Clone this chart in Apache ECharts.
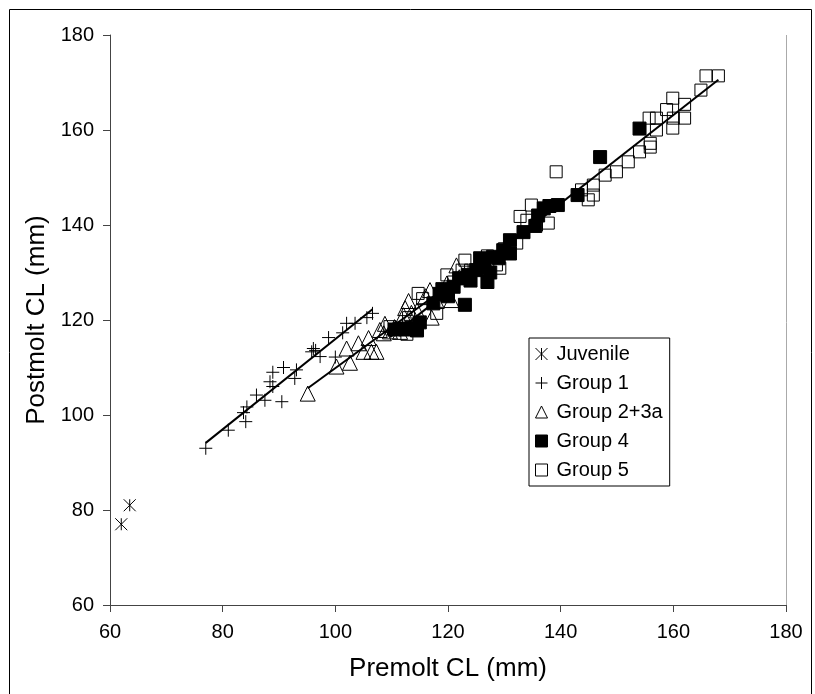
<!DOCTYPE html>
<html><head><meta charset="utf-8">
<script src="https://cdn.jsdelivr.net/npm/echarts@6/dist/echarts.min.js"></script>
<style>html,body{margin:0;padding:0;background:#fff}#c{width:815px;height:694px}</style>
</head><body><div id="c"></div>
<script>
// ---- data (Premolt CL, Postmolt CL) ----
const seriesNames = ['Juvenile', 'Group 1', 'Group 2+3a', 'Group 4', 'Group 5'];
const xTicks = [60, 80, 100, 120, 140, 160, 180];
const yTicks = [60, 80, 100, 120, 140, 160, 180];

const juvenile = [[62, 77], [63.5, 81]];

const group1 = [[77, 93], [81, 96.8], [83.7, 100.5], [84.1, 98.6], [84.3, 101.7], [86, 104.2],
  [87.5, 103.1], [88.4, 107], [88.9, 109], [88.9, 106], [90.5, 102.8], [90.8, 110], [92.8, 107.7],
  [93.1, 109.5], [95.8, 113.3], [96.1, 114], [96.5, 113.6], [97.3, 112.3], [98.8, 116.3],
  [100, 112.2], [101.3, 117.3], [102, 119.3], [103.5, 119.3], [105.6, 120.5], [106.6, 121.4]];

const group23a = [[95.1, 104.5], [100.2, 110.2], [102, 114], [102.6, 111], [104.1, 115.1], [105, 113.3],
  [105.9, 116.2], [106.4, 113.3], [107.3, 113.3], [107.9, 117.9], [108.6, 117.2], [108.8, 119.2],
  [109.7, 117.6], [110.5, 118.5], [111.5, 117.5], [112.1, 121], [112.4, 122.5], [113, 124],
  [113.5, 121.5], [114.5, 122], [116, 125], [116.8, 126.3], [117.1, 120.5], [118, 124],
  [119.8, 127.7], [120.6, 124.2], [121.5, 131.5], [122, 129]];

const group4 = [[110.5, 118], [111.5, 118.2], [112.5, 118], [113.5, 118.3], [114.5, 117.8], [115, 119.5],
  [117.4, 123.5], [118.5, 125.5], [119, 126.5], [120, 125], [121, 127], [122, 128.8], [123, 123.2],
  [123.5, 129.5], [124, 128.3], [125, 130.5], [125.7, 133], [126.5, 131], [127, 128], [127.5, 130],
  [128, 133.3], [129, 133], [129.8, 134.7], [131, 134], [131, 136.8], [133.4, 138.5], [135.5, 139.8],
  [136, 142], [137, 143.5], [138, 144], [139.5, 144.2], [143, 146.3], [147, 154.3], [154, 160.3]];

const group5 = [[109.7, 118.6], [112.7, 117], [113, 120.5], [114.7, 125.6], [115.5, 124.5], [118, 121.4],
  [119.8, 129.5], [121, 128], [122.5, 130.5], [123, 132.6], [124, 130.5], [126, 131], [127, 133.5],
  [128.6, 131.6], [129.2, 130.9], [130, 135], [132.2, 136.2], [132.8, 141.8], [134, 141], [134.8, 144.2],
  [135.7, 140], [137.8, 140.4], [139.2, 151.2], [143.7, 147.4], [144.9, 145.3], [145.8, 146.3],
  [145.8, 148.4], [147.9, 150.5], [149.9, 151.2], [152, 153.3], [154, 155.4], [155.9, 156.4],
  [155.9, 157.2], [155.7, 162.5], [157, 162.5], [157, 160], [158.8, 164.3], [159.9, 160.4], [160, 162.5],
  [159.9, 166.7], [162, 162.5], [162, 165.4], [164.9, 168.4], [165.8, 171.4], [168, 171.4]];

// ---- least-squares trend line over each group's x range ----
function fit(pts) {
  const n = pts.length;
  let sx = 0, sy = 0, sxx = 0, sxy = 0, mn = Infinity, mx = -Infinity;
  pts.forEach(([x, y]) => { sx += x; sy += y; sxx += x * x; sxy += x * y; mn = Math.min(mn, x); mx = Math.max(mx, x); });
  const b = (n * sxy - sx * sy) / (n * sxx - sx * sx);
  const a = (sy - b * sx) / n;
  return [[mn, a + b * mn], [mx, a + b * mx]];
}

const FONT = 'Liberation Sans, Arial, sans-serif';
const CLEAR = 'rgba(0,0,0,0)';
const STAR = 'path://M0,0L10,10M10,0L0,10M5,0L5,10';
const PLUS = 'path://M0,5L10,5M5,0L5,10';

function scatter(name, data, symbol, size, fill) {
  return {
    name, type: 'scatter', data, symbol, symbolSize: size,
    itemStyle: { color: fill, borderColor: '#000', borderWidth: 1, opacity: 1 },
    emphasis: { disabled: true }
  };
}
function trend(pts) {
  return {
    type: 'line', data: fit(pts), showSymbol: false, silent: true,
    lineStyle: { color: '#000', width: 2 }, z: 5
  };
}

const chart = echarts.init(document.getElementById('c'), null, { renderer: 'canvas' });
chart.setOption({
  animation: false,
  backgroundColor: '#fff',
  grid: { left: 110, right: 29, top: 35, bottom: 89 },
  xAxis: {
    type: 'value', min: xTicks[0], max: xTicks[xTicks.length - 1], interval: 20,
    name: 'Premolt CL (mm)', nameLocation: 'middle', nameGap: 51,
    nameTextStyle: { fontFamily: FONT, fontSize: 26, color: '#000' },
    axisLine: { lineStyle: { color: '#444', width: 1 } },
    axisTick: { show: true, length: 7, lineStyle: { color: '#444' } },
    axisLabel: { fontFamily: FONT, fontSize: 20, color: '#000', margin: 17 },
    splitLine: { show: false }
  },
  yAxis: {
    type: 'value', min: yTicks[0], max: yTicks[yTicks.length - 1], interval: 20,
    name: 'Postmolt CL (mm)', nameLocation: 'middle', nameGap: 52,
    nameTextStyle: { fontFamily: FONT, fontSize: 26, color: '#000' },
    axisLine: { show: true, lineStyle: { color: '#444', width: 1 } },
    axisTick: { show: true, length: 7, lineStyle: { color: '#444' } },
    axisLabel: { fontFamily: FONT, fontSize: 20, color: '#000', margin: 16 },
    splitLine: { show: false }
  },
  legend: {
    orient: 'vertical', left: 529, top: 338,
    backgroundColor: '#fff', borderColor: '#000', borderWidth: 1,
    padding: [6, 7, 6, 6], itemGap: 9, itemWidth: 12, itemHeight: 12,
    textStyle: { fontFamily: FONT, fontSize: 20, color: '#000', padding: [0, 0, 0, 4] },
    data: [
      { name: seriesNames[0], icon: STAR, itemStyle: { color: CLEAR, borderColor: '#000', borderWidth: 1 } },
      { name: seriesNames[1], icon: PLUS, itemStyle: { color: CLEAR, borderColor: '#000', borderWidth: 1 } },
      { name: seriesNames[2], icon: 'triangle', itemStyle: { color: CLEAR, borderColor: '#000', borderWidth: 1 } },
      { name: seriesNames[3], icon: 'rect', itemStyle: { color: '#000', borderColor: '#000', borderWidth: 1 } },
      { name: seriesNames[4], icon: 'rect', itemStyle: { color: CLEAR, borderColor: '#000', borderWidth: 1 } }
    ]
  },
  graphic: [
    { type: 'rect', shape: { x: 9.5, y: 9.5, width: 802, height: 700 }, style: { fill: 'none', stroke: '#000', lineWidth: 1 }, silent: true, z: -1 },
    { type: 'line', shape: { x1: 786.5, y1: 35, x2: 786.5, y2: 610 }, style: { stroke: '#aaa', lineWidth: 1 }, silent: true }
  ],
  series: [
    scatter(seriesNames[0], juvenile, STAR, 12, CLEAR),
    scatter(seriesNames[1], group1, PLUS, 13, CLEAR),
    scatter(seriesNames[2], group23a, 'triangle', 15, CLEAR),
    scatter(seriesNames[3], group4, 'rect', 13, '#000'),
    scatter(seriesNames[4], group5, 'rect', 12, CLEAR),
    trend(group1), trend(group23a), trend(group4.concat(group5))
  ]
});
</script>
</body></html>
